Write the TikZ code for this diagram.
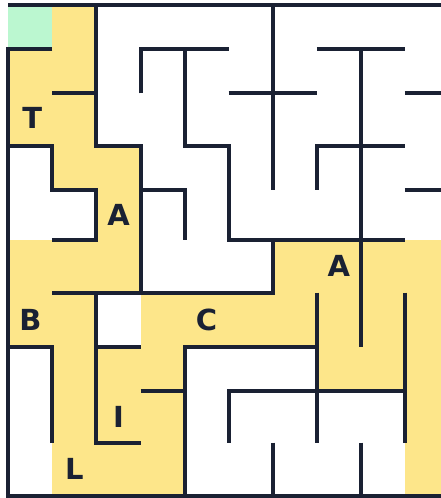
\documentclass[tikz,border=0pt]{standalone}
\usepackage{fontspec}
\newfontfamily\labfont{DejaVu Sans}
\usetikzlibrary{calc}
\definecolor{wall}{HTML}{1A2133}
\definecolor{yel}{HTML}{FDE68A}
\definecolor{grn}{HTML}{BBF7D0}
\tikzset{
  wallline/.style={draw=wall, line width=4pt, line cap=butt, line join=miter},
  lettr/.style={text=wall, inner sep=0pt, font=\labfont\bfseries\fontsize{29}{29}\selectfont}
}
\begin{document}
\begin{tikzpicture}[x=1pt,y=-1pt]
\useasboundingbox (0,0) rectangle (441,498);
\clip (0,0) rectangle (441,498);
\fill[white] (0,0) rectangle (441,498);
% grid points
\foreach \c in {0,...,10}{
  \foreach \r/\yy in {0/5.3,1/49.3,2/93.3,3/145.7,4/189.5,5/240,6/292.7,7/346.7,8/391,9/442.7,10/496}{
    \coordinate (g-\c-\r) at ({8.3+44.07*\c},\yy);
  }
}
% cell fills
\fill[grn] (g-0-0) rectangle (g-1-1);
\foreach \c/\r in {1/0, 0/1,1/1, 0/2,1/2, 1/3,2/3, 2/4,
  0/5,1/5,2/5,6/5,7/5,8/5,9/5,
  0/6,1/6,3/6,4/6,5/6,6/6,7/6,8/6,9/6,
  1/7,2/7,3/7,7/7,8/7,9/7,
  1/8,2/8,3/8,9/8,
  1/9,2/9,3/9,9/9}{
  \pgfmathtruncatemacro\cc{\c+1}
  \pgfmathtruncatemacro\rr{\r+1}
  \fill[yel] (g-\c-\r) rectangle (g-\cc-\rr);
}
% walls
\path[wallline] (g-0-0) -- (g-10-0);
\path[wallline] (g-1-1) -- (g-0-1) -- (g-0-10) -- (g-10-10);
\path[wallline] (g-2-0) -- (g-2-3) -- (g-3-3) -- (g-3-6);
\path[wallline] (g-1-2) -- (g-2-2);
\path[wallline] (g-0-3) -- (g-1-3) -- (g-1-4) -- (g-2-4) -- (g-2-5) -- (g-1-5);
\path[wallline] (g-3-2) -- (g-3-1) -- (g-5-1);
\path[wallline] (g-4-1) -- (g-4-3) -- (g-5-3) -- (g-5-5) -- (g-9-5);
\path[wallline] (g-3-4) -- (g-4-4) -- (g-4-5);
\path[wallline] (g-6-0) -- (g-6-4);
\path[wallline] (g-5-2) -- (g-7-2);
\path[wallline] (g-7-1) -- (g-9-1);
\path[wallline] (g-8-1) -- (g-8-7);
\path[wallline] (g-9-2) -- (g-10-2);
\path[wallline] (g-7-4) -- (g-7-3) -- (g-9-3);
\path[wallline] (g-9-4) -- (g-10-4);
\path[wallline] (g-6-5) -- (g-6-6) -- (g-1-6);
\path[wallline] (g-3-9) -- (g-2-9) -- (g-2-6);
\path[wallline] (g-0-7) -- (g-1-7) -- (g-1-9);
\path[wallline] (g-2-7) -- (g-3-7);
\path[wallline] (g-3-8) -- (g-4-8);
\path[wallline] (g-4-10) -- (g-4-7) -- (g-7-7);
\path[wallline] (g-7-6) -- (g-7-9);
\path[wallline] (g-9-6) -- (g-9-9);
\path[wallline] (g-5-9) -- (g-5-8) -- (g-9-8);
\path[wallline] (g-6-9) -- (g-6-10);
\path[wallline] (g-8-9) -- (g-8-10);
% letters
\node[lettr] (T)  at ($(g-0-2)!0.5!(g-1-3)+(2,-2)$) {T};
\node[lettr] (A1) at ($(g-2-4)!0.5!(g-3-5)$) {A};
\node[lettr] (A2) at ($(g-7-5)!0.5!(g-8-6)$) {A};
\node[lettr] (B)  at ($(g-0-6)!0.5!(g-1-7)$) {B};
\node[lettr] (C)  at ($(g-4-6)!0.5!(g-5-7)$) {C};
\node[lettr] (I)  at ($(g-2-8)!0.5!(g-3-9)$) {I};
\node[lettr] (L)  at ($(g-1-9)!0.5!(g-2-10)$) {L};
\end{tikzpicture}
\end{document}
